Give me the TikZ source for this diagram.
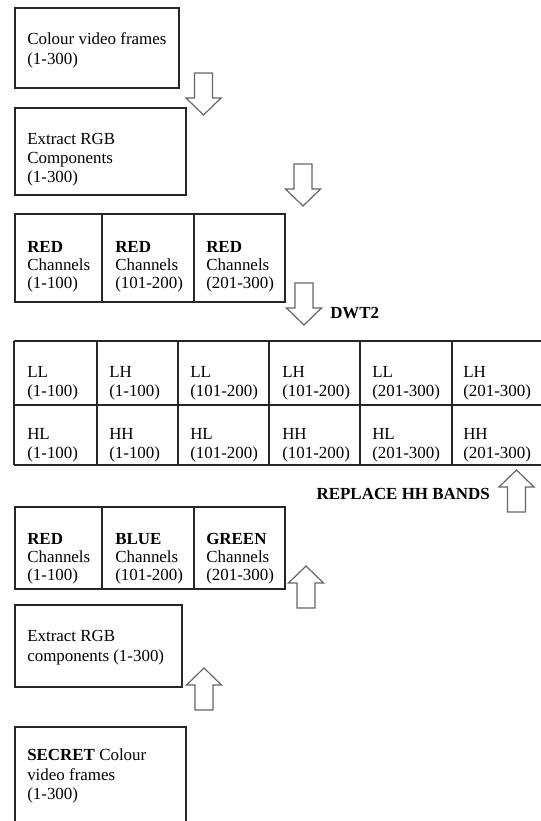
\documentclass[tikz,border=0pt]{standalone}
\usepackage{fontspec}
\setmainfont{Liberation Serif}
\usetikzlibrary{fit}
\tikzset{
  boxframe/.style={draw=black!85, line width=1.1pt, inner sep=0pt, fit={#1}},
  gridline/.style={draw=black!85, line width=1.1pt},
  txt/.style={anchor=base west, inner sep=0pt, text=black, font=\fontsize{12.7pt}{15pt}\selectfont},
  boldtxt/.style={txt, font=\fontsize{12.7pt}{15pt}\selectfont\bfseries},
  arrowline/.style={draw=black!60, line width=0.9pt, fill=white, line join=miter},
  downarr/.pic={\draw[arrowline] (-9,0) -- (-9,25) -- (-17.5,25) -- (0,42) -- (17.5,25) -- (9,25) -- (9,0) -- cycle;},
  uparr/.pic={\draw[arrowline] (-9,0) -- (-9,-25) -- (-17.5,-25) -- (0,-42) -- (17.5,-25) -- (9,-25) -- (9,0) -- cycle;}
}
\begin{document}
\begin{tikzpicture}[x=0.75pt,y=-0.75pt]
\useasboundingbox (0,0) rectangle (541,821);
\clip (0,0) rectangle (541,821);
\fill[white] (0,0) rectangle (541,821);

% box 1
\node[boxframe={(15,8) (179,88)}] (b1) {};
\node[txt] (b1a) at (27,44) {Colour video frames};
\node[txt] (b1b) at (27,64) {(1-300)};

\pic (a1) at (203.5,73) {downarr};

% box 2
\node[boxframe={(15,108) (186,195)}] (b2) {};
\node[txt] (b2a) at (27,144) {Extract RGB};
\node[txt] (b2b) at (27,163) {Components};
\node[txt] (b2c) at (27,182) {(1-300)};

\pic (a2) at (303,164) {downarr};

% red channels row
\node[boxframe={(15,214) (102,302)}] (r1) {};
\node[boxframe={(102,214) (194,302)}] (r2) {};
\node[boxframe={(194,214) (285,302)}] (r3) {};
\node[boldtxt] (r1a) at (27,252) {RED};
\node[txt] (r1b) at (27,270) {Channels};
\node[txt] (r1c) at (27,288) {(1-100)};
\node[boldtxt] (r2a) at (115,252) {RED};
\node[txt] (r2b) at (115,270) {Channels};
\node[txt] (r2c) at (115,288) {(101-200)};
\node[boldtxt] (r3a) at (206,252) {RED};
\node[txt] (r3b) at (206,270) {Channels};
\node[txt] (r3c) at (206,288) {(201-300)};

\pic (a3) at (304,283) {downarr};
\node[boldtxt] (dwt) at (330,318) {DWT2};

% DWT table
\draw[gridline] (14,341) -- (545,341);
\draw[gridline] (14,405) -- (545,405);
\draw[gridline] (14,465) -- (545,465);
\foreach \xx in {14,97,178,269,360,452} {
  \draw[gridline] (\xx,341) -- (\xx,465);
}
\node[txt] (t11) at (27,377) {LL};
\node[txt] (t11b) at (27,396) {(1-100)};
\node[txt] (t12) at (109,377) {LH};
\node[txt] (t12b) at (109,396) {(1-100)};
\node[txt] (t13) at (190,377) {LL};
\node[txt] (t13b) at (190,396) {(101-200)};
\node[txt] (t14) at (282,377) {LH};
\node[txt] (t14b) at (282,396) {(101-200)};
\node[txt] (t15) at (372,377) {LL};
\node[txt] (t15b) at (372,396) {(201-300)};
\node[txt] (t16) at (463,377) {LH};
\node[txt] (t16b) at (463,396) {(201-300)};
\node[txt] (t21) at (27,439) {HL};
\node[txt] (t21b) at (27,458) {(1-100)};
\node[txt] (t22) at (109,439) {HH};
\node[txt] (t22b) at (109,458) {(1-100)};
\node[txt] (t23) at (190,439) {HL};
\node[txt] (t23b) at (190,458) {(101-200)};
\node[txt] (t24) at (282,439) {HH};
\node[txt] (t24b) at (282,458) {(101-200)};
\node[txt] (t25) at (372,439) {HL};
\node[txt] (t25b) at (372,458) {(201-300)};
\node[txt] (t26) at (463,439) {HH};
\node[txt] (t26b) at (463,458) {(201-300)};

\pic (a4) at (516.5,512) {uparr};
\node[boldtxt, anchor=base east] (repl) at (490,499) {REPLACE HH BANDS};

% RGB row
\node[boxframe={(15,507) (102,589)}] (g1) {};
\node[boxframe={(102,507) (194,589)}] (g2) {};
\node[boxframe={(194,507) (285,589)}] (g3) {};
\node[boldtxt] (g1a) at (27,544) {RED};
\node[txt] (g1b) at (27,562) {Channels};
\node[txt] (g1c) at (27,580) {(1-100)};
\node[boldtxt] (g2a) at (115,544) {BLUE};
\node[txt] (g2b) at (115,562) {Channels};
\node[txt] (g2c) at (115,580) {(101-200)};
\node[boldtxt] (g3a) at (206,544) {GREEN};
\node[txt] (g3b) at (206,562) {Channels};
\node[txt] (g3c) at (206,580) {(201-300)};

\pic (a5) at (306,608) {uparr};

% extract components box
\node[boxframe={(15,605) (182,687)}] (b5) {};
\node[txt] (b5a) at (27,641) {Extract RGB};
\node[txt] (b5b) at (27,661) {components (1-300)};

\pic (a6) at (204,710) {uparr};

% secret box
\node[boxframe={(15,727) (186,840)}] (b6) {};
\node[txt] (b6a) at (27,760) {\textbf{SECRET} Colour};
\node[txt] (b6b) at (27,780) {video frames};
\node[txt] (b6c) at (27,799) {(1-300)};
\end{tikzpicture}
\end{document}
